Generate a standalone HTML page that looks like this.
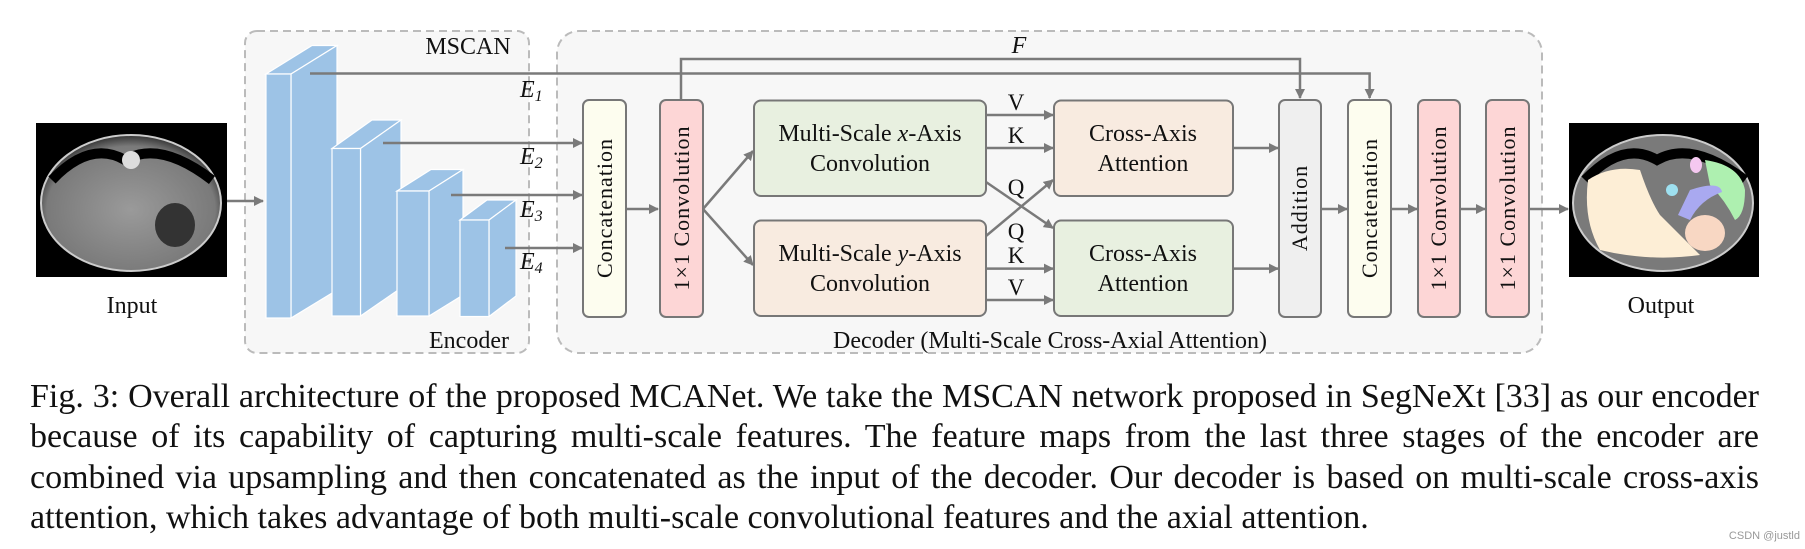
<!DOCTYPE html>
<html><head><meta charset="utf-8"><style>
html,body{margin:0;padding:0;background:#fff;}
body{width:1805px;height:549px;overflow:hidden;position:relative;}
svg{position:absolute;left:0;top:0;}
.cap{position:absolute;left:30px;width:1729px;font-family:"Liberation Serif",serif;font-size:34px;line-height:40.5px;color:#111;text-align:justify;text-align-last:justify;white-space:nowrap;}
</style></head><body>
<svg width="1805" height="549" viewBox="0 0 1805 549" font-family="Liberation Serif, serif">
<defs>
<marker id="ah" markerWidth="10" markerHeight="10" refX="9" refY="5" orient="auto" markerUnits="userSpaceOnUse">
<path d="M0,0 L10,5 L0,10 z" fill="#7a7a7a"/></marker>
<radialGradient id="ct" cx="50%" cy="55%" r="55%"><stop offset="0" stop-color="#9a9a9a"/><stop offset="0.85" stop-color="#7a7a7a"/><stop offset="1" stop-color="#333"/></radialGradient>
</defs>
<rect x="245" y="31" width="284" height="322" rx="12" fill="#f7f7f7" stroke="#bbb" stroke-width="2" stroke-dasharray="8,5"/>
<rect x="557" y="31" width="985" height="322" rx="22" fill="#f7f7f7" stroke="#bbb" stroke-width="2" stroke-dasharray="8,5"/>
<rect x="36" y="123" width="191" height="154" fill="#000"/>
<ellipse cx="131" cy="203" rx="90" ry="68" fill="url(#ct)" stroke="#ccc" stroke-width="2"/>
<path d="M52,180 Q90,140 125,160 Q160,140 212,180" fill="none" stroke="#000" stroke-width="10"/>
<circle cx="131" cy="160" r="9" fill="#ddd"/>
<ellipse cx="175" cy="225" rx="20" ry="22" fill="#333"/>
<rect x="1569" y="123" width="190" height="154" fill="#000"/>
<ellipse cx="1663" cy="203" rx="90" ry="68" fill="#7a7a7a" stroke="#ccc" stroke-width="2"/>
<path d="M1585,180 Q1623,140 1657,160 Q1692,140 1745,180" fill="none" stroke="#000" stroke-width="10"/>
<path d="M1588,180 Q1610,165 1640,170 Q1650,200 1660,215 Q1680,235 1700,255 Q1650,262 1600,250 Q1583,220 1588,180z" fill="#fdeed6"/>
<path d="M1705,160 Q1740,165 1745,190 Q1745,215 1735,220 Q1725,200 1710,185z" fill="#aef0b0"/>
<path d="M1690,190 Q1720,180 1722,192 Q1700,200 1690,220 L1678,215z" fill="#a9a9f0"/>
<ellipse cx="1705" cy="233" rx="20" ry="18" fill="#f8d7c3"/>
<circle cx="1672" cy="190" r="6" fill="#9ee0f0"/>
<ellipse cx="1696" cy="165" rx="6" ry="8" fill="#f5c8f0"/>
<g fill="#9dc3e6" stroke="#fff" stroke-width="1.2">
<polygon points="266,74 312,45.5 337,45.5 291,74"/><polygon points="291,74 337,45.5 337,290 291,318"/><rect x="266" y="74" width="25" height="244"/>
<polygon points="332,148.5 372,120 401,120 360.5,148.5"/><polygon points="360.5,148.5 401,120 401,288 360.5,316"/><rect x="332" y="148.5" width="28.5" height="167.5"/>
<polygon points="397,191 431,169.5 463,169.5 429,191"/><polygon points="429,191 463,169.5 463,295 429,316"/><rect x="397" y="191" width="32" height="125"/>
<polygon points="460,220 487,200 516,200 489,220"/><polygon points="489,220 516,200 516,296 489,316.5"/><rect x="460" y="220" width="29" height="96.5"/>
</g>
<g font-size="24" fill="#111">
<text x="468" y="54" text-anchor="middle">MSCAN</text>
<text x="469" y="348" text-anchor="middle">Encoder</text>
<text x="132" y="313" text-anchor="middle">Input</text>
<text x="1661" y="313" text-anchor="middle">Output</text>
<text x="1050" y="348" text-anchor="middle">Decoder (Multi-Scale Cross-Axial Attention)</text>
<text x="1019" y="53" text-anchor="middle" font-style="italic">F</text>
<g font-style="italic"><text x="520" y="97">E<tspan font-size="16" dy="4">1</tspan></text>
<text x="520" y="164">E<tspan font-size="16" dy="4">2</tspan></text>
<text x="520" y="217">E<tspan font-size="16" dy="4">3</tspan></text>
<text x="520" y="269">E<tspan font-size="16" dy="4">4</tspan></text></g>
<g text-anchor="middle" font-size="23"><text x="1016" y="110">V</text><text x="1016" y="143">K</text><text x="1016" y="195">Q</text><text x="1016" y="239">Q</text><text x="1016" y="263">K</text><text x="1016" y="295">V</text></g>
</g>
<g stroke="#7a7a7a" stroke-width="2.5" fill="none">
<line x1="227" y1="201" x2="263" y2="201" marker-end="url(#ah)"/>
<line x1="383" y1="143" x2="582" y2="143" marker-end="url(#ah)"/>
<line x1="451" y1="195" x2="582" y2="195" marker-end="url(#ah)"/>
<line x1="505" y1="248" x2="582" y2="248" marker-end="url(#ah)"/>
<polyline points="310,73.5 1369.6,73.5 1369.6,98" marker-end="url(#ah)"/>
<polyline points="681,100 681,59 1300,59 1300,98" marker-end="url(#ah)"/>
<line x1="626" y1="209" x2="658" y2="209" marker-end="url(#ah)"/>
<line x1="703" y1="209" x2="753" y2="151" marker-end="url(#ah)"/>
<line x1="703" y1="209" x2="753" y2="265" marker-end="url(#ah)"/>
<line x1="986" y1="115" x2="1053" y2="115" marker-end="url(#ah)"/>
<line x1="986" y1="148" x2="1053" y2="148" marker-end="url(#ah)"/>
<line x1="986" y1="182" x2="1053" y2="228" marker-end="url(#ah)"/>
<line x1="986" y1="236" x2="1053" y2="180" marker-end="url(#ah)"/>
<line x1="986" y1="268.6" x2="1053" y2="268.6" marker-end="url(#ah)"/>
<line x1="986" y1="300" x2="1053" y2="300" marker-end="url(#ah)"/>
<line x1="1233" y1="148" x2="1278" y2="148" marker-end="url(#ah)"/>
<line x1="1233" y1="268.6" x2="1278" y2="268.6" marker-end="url(#ah)"/>
<line x1="1321" y1="209" x2="1347" y2="209" marker-end="url(#ah)"/>
<line x1="1391" y1="209" x2="1417" y2="209" marker-end="url(#ah)"/>
<line x1="1460" y1="209" x2="1485" y2="209" marker-end="url(#ah)"/>
<line x1="1529" y1="209" x2="1568" y2="209" marker-end="url(#ah)"/>
</g>
<g stroke="#777" stroke-width="2">
<rect x="583" y="100" width="43" height="217" rx="6" fill="#fdfdef"/>
<rect x="660" y="100" width="43" height="217" rx="6" fill="#fdd6d6"/>
<rect x="754" y="100.5" width="232" height="95.5" rx="7" fill="#e8f0e0"/>
<rect x="754" y="220.5" width="232" height="95.5" rx="7" fill="#f8ebe0"/>
<rect x="1054" y="100.5" width="179" height="95.5" rx="7" fill="#f8ebe0"/>
<rect x="1054" y="220.5" width="179" height="95.5" rx="7" fill="#e8f0e0"/>
<rect x="1279" y="100" width="42" height="217" rx="6" fill="#efefef"/>
<rect x="1348" y="100" width="43" height="217" rx="6" fill="#fdfdef"/>
<rect x="1418" y="100" width="42" height="217" rx="6" fill="#fdd6d6"/>
<rect x="1486" y="100" width="43" height="217" rx="6" fill="#fdd6d6"/>
</g>
<g font-size="24" fill="#111" text-anchor="middle">
<text x="870" y="141">Multi-Scale <tspan font-style="italic">x</tspan>-Axis</text>
<text x="870" y="171">Convolution</text>
<text x="870" y="261">Multi-Scale <tspan font-style="italic">y</tspan>-Axis</text>
<text x="870" y="291">Convolution</text>
<text x="1143" y="141">Cross-Axis</text><text x="1143" y="171">Attention</text>
<text x="1143" y="261">Cross-Axis</text><text x="1143" y="291">Attention</text>
<g letter-spacing="1" font-size="22">
<text transform="translate(612,208) rotate(-90)">Concatenation</text>
<text transform="translate(689,208) rotate(-90)">1×1 Convolution</text>
<text transform="translate(1307,208) rotate(-90)">Addition</text>
<text transform="translate(1377,208) rotate(-90)">Concatenation</text>
<text transform="translate(1446,208) rotate(-90)">1×1 Convolution</text>
<text transform="translate(1515,208) rotate(-90)">1×1 Convolution</text>
</g>
</g>
<text x="1800" y="539" font-family="Liberation Sans, sans-serif" font-size="11" fill="#999" text-anchor="end">CSDN @justld</text>
</svg>
<div class="cap" style="top:377px">Fig. 3: Overall architecture of the proposed MCANet. We take the MSCAN network proposed in SegNeXt [33] as our encoder</div>
<div class="cap" style="top:417px">because of its capability of capturing multi-scale features. The feature maps from the last three stages of the encoder are</div>
<div class="cap" style="top:458px">combined via upsampling and then concatenated as the input of the decoder. Our decoder is based on multi-scale cross-axis</div>
<div class="cap" style="top:498px;text-align-last:left;width:auto">attention, which takes advantage of both multi-scale convolutional features and the axial attention.</div>
</body></html>
